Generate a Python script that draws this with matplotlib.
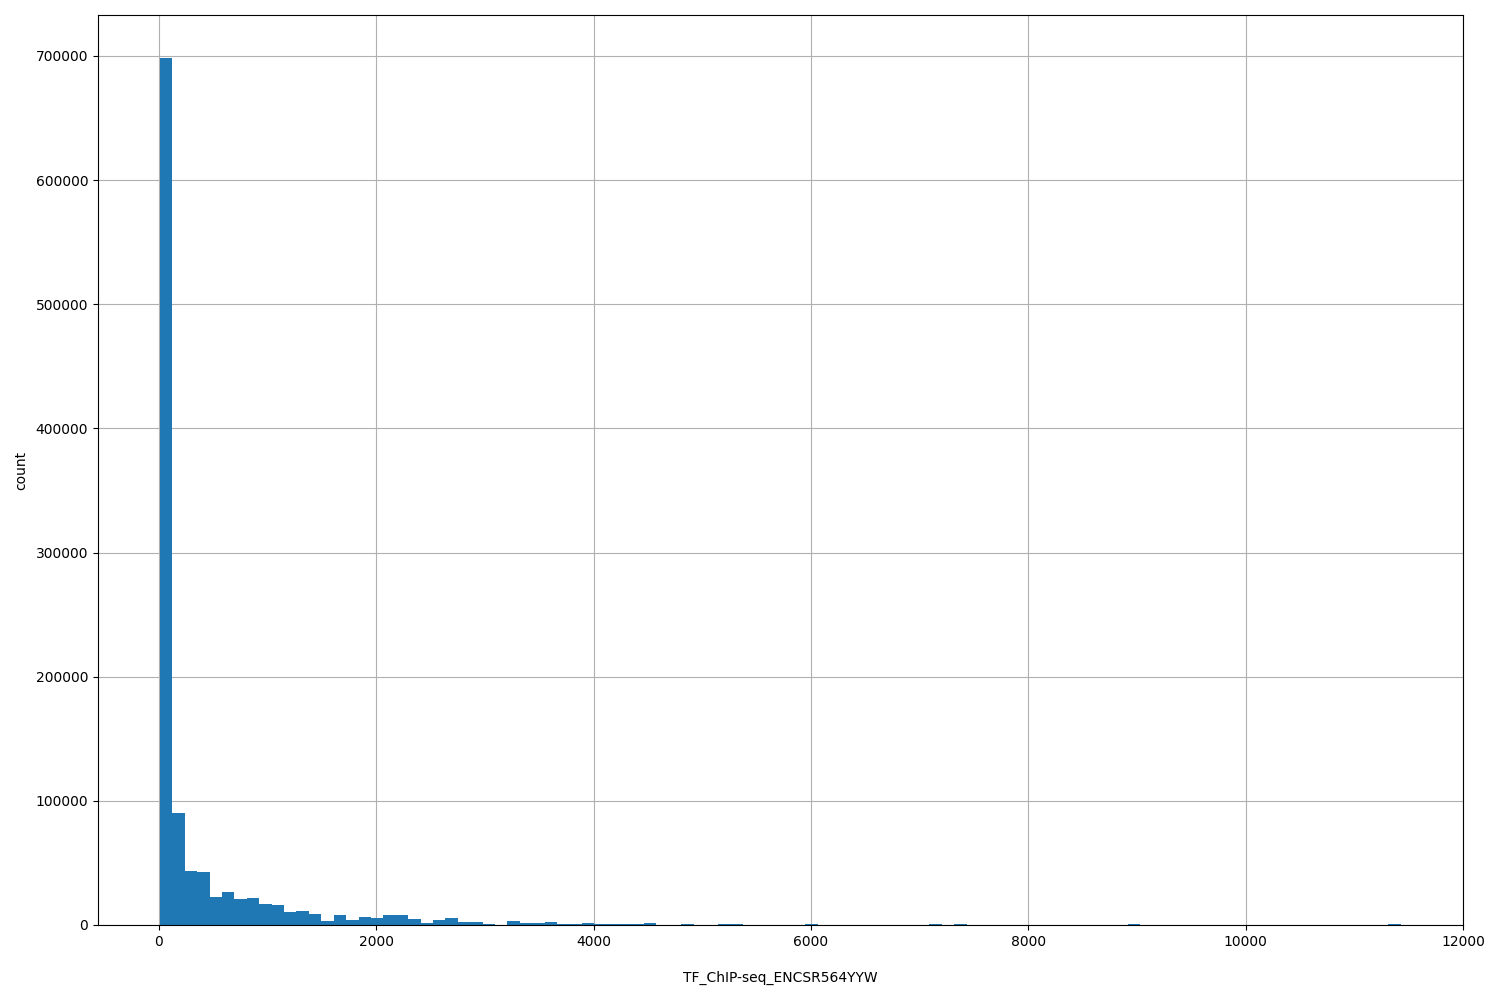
import numpy as np
import matplotlib
matplotlib.use("Agg")
import matplotlib.pyplot as plt

# Histogram of TF_ChIP-seq_ENCSR564YYW: 100 equal-width bins
data_min = 10
data_max = 11429
counts = [
    698000, 90300, 43800, 42700, 22600, 26600, 21000, 22000, 16900, 16100,
    10500, 11300, 8900, 3200, 8100, 4000, 6400, 5600, 8100, 8100,
    4800, 1600, 4000, 5600, 2400, 2400, 800, 100, 3200, 1600,
    1600, 2200, 800, 800, 1600, 800, 800, 800, 800, 1600,
    200, 200, 800, 100, 200, 800, 800, 100, 0, 150,
    0, 100, 800, 100, 0, 0, 50, 0, 0, 50,
    0, 0, 700, 0, 700, 0, 0, 50, 0, 0,
    0, 0, 0, 50, 0, 0, 0, 0, 700, 0,
    0, 0, 0, 0, 0, 0, 0, 0, 0, 0,
    0, 0, 0, 0, 0, 0, 0, 0, 0, 700,
]
x_label = "TF_ChIP-seq_ENCSR564YYW"
y_label = "count"
x_ticks = [0, 2000, 4000, 6000, 8000, 10000, 12000]
y_ticks = [0, 100000, 200000, 300000, 400000, 500000, 600000, 700000]

edges = np.linspace(data_min, data_max, len(counts) + 1)
centers = (edges[:-1] + edges[1:]) / 2

fig = plt.figure(figsize=(15, 10), dpi=100)
ax = fig.add_axes([0.0653, 0.075, 0.91, 0.91])
ax.hist(centers, bins=edges, weights=counts, color="#1f77b4")
ax.set_axisbelow(True)
ax.grid(True, color="#b0b0b0", linewidth=0.8)
ax.set_xticks(x_ticks)
ax.set_yticks(y_ticks)
ax.set_xlabel(x_label, labelpad=16)
ax.set_ylabel(y_label, labelpad=5)
ax.set_xlim(-561, 12000)
fig.savefig("out.png", dpi=100)
